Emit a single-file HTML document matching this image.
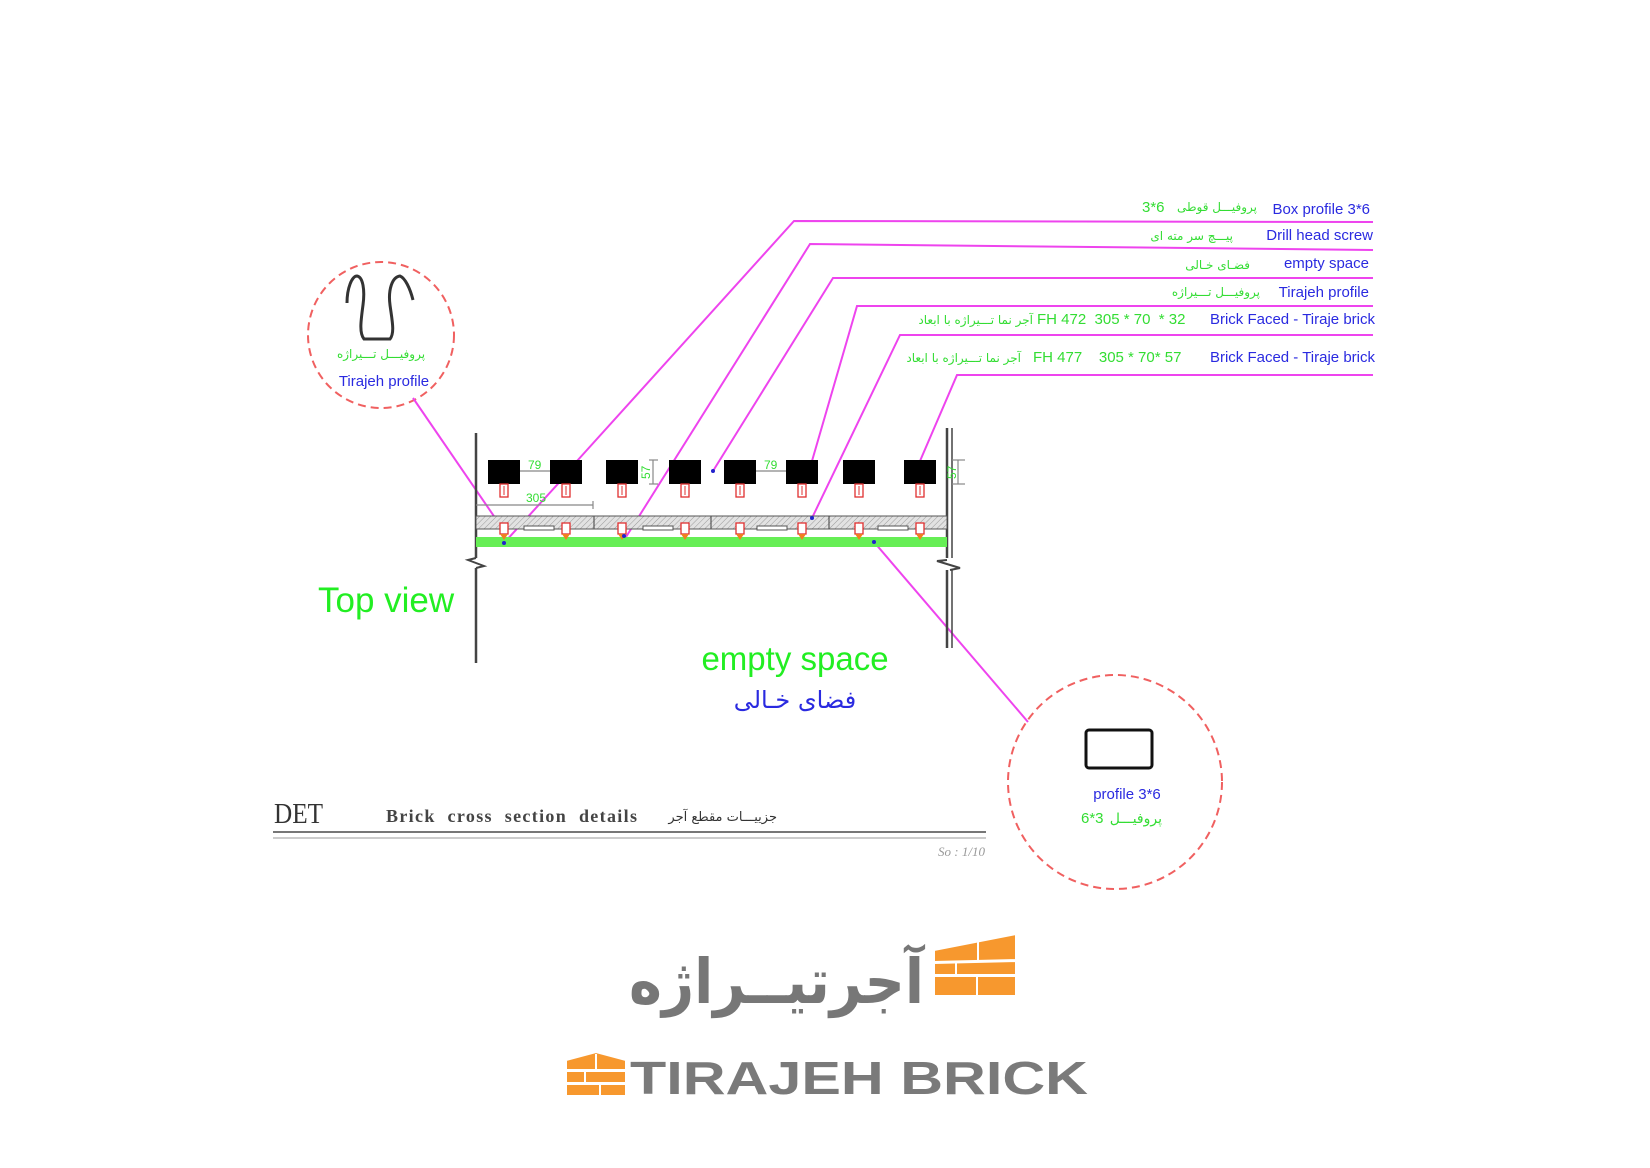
<!DOCTYPE html>
<html><head><meta charset="utf-8"><style>html,body{margin:0;padding:0;background:#fff}svg{display:block}</style></head>
<body>
<svg width="1650" height="1168" viewBox="0 0 1650 1168" xmlns="http://www.w3.org/2000/svg">
<defs>
<pattern id="h" width="4" height="4" patternUnits="userSpaceOnUse" patternTransform="rotate(45)">
<rect width="4" height="4" fill="#e2e2e2"/><line x1="0" y1="0" x2="0" y2="4" stroke="#9a9a9a" stroke-width="1"/></pattern>
<g id="scr"><rect x="-4" y="0" width="8" height="13" fill="#fff" stroke="#e03030" stroke-width="1.3"/><line x1="0" y1="2" x2="0" y2="11" stroke="#e03030" stroke-width="1"/></g>
<g id="scr2"><rect x="-4" y="0" width="8" height="11" fill="#fff" stroke="#e03030" stroke-width="1.3"/><polygon points="-4,11 4,11 0,17" fill="#f08020"/></g>
</defs>

<!-- left circle -->
<ellipse cx="381" cy="335" rx="73" ry="73" fill="none" stroke="#f06060" stroke-width="2" stroke-dasharray="8,5"/>
<path d="M347,303 C347,288 352,276 357,276 C363,277 365,290 363,305 C361,320 359,333 364,339 L390,339 C395,333 392,320 390,305 C388,290 392,277 400,276 C405,278 410,288 413,300" fill="none" stroke="#333" stroke-width="3"/>
<text x="381" y="358" font-family="DejaVu Sans, sans-serif" font-size="12" fill="#33dd33" text-anchor="middle">پروفیـــل تـــیراژه</text>
<text x="384" y="386" font-family="Liberation Sans, sans-serif" font-size="15" fill="#2a2ae0" text-anchor="middle">Tirajeh profile</text>

<!-- label lines -->
<g stroke="#ee44ee" stroke-width="2" fill="none">
<polyline points="1373,222 794,221 577,461"/>
<line x1="577" y1="463" x2="504" y2="543"/>
<polyline points="1373,250 810,244 626,537"/>
<polyline points="1373,278 833,278 713,471"/>
<polyline points="1373,306 857,306 812,461"/>
<polyline points="1373,335 900,335 812,518"/>
<polyline points="1373,375 957,375 920,461"/>
<line x1="413" y1="398" x2="500" y2="525"/>
<line x1="874" y1="542" x2="1028" y2="722"/>
</g>

<g font-family="Liberation Sans, sans-serif" font-size="15" fill="#2a2ae0" text-anchor="end">
<text x="1370" y="214">Box profile 3*6</text>
<text x="1373" y="240">Drill head screw</text>
<text x="1369" y="268">empty space</text>
<text x="1369" y="297">Tirajeh profile</text>
<text x="1375" y="324">Brick Faced - Tiraje brick</text>
<text x="1375" y="362">Brick Faced - Tiraje brick</text>
</g>
<g font-family="DejaVu Sans, sans-serif" font-size="12" fill="#33dd33" text-anchor="end">
<text x="1257" y="211">پروفیـــل قوطی</text>
<text x="1233" y="240">پیـــچ سر مته ای</text>
<text x="1250" y="269">فضـای خـالی</text>
<text x="1260" y="296">پروفیـــل تـــیراژه</text>
<text x="1033" y="324">آجر نما تـــیراژه با ابعاد</text>
<text x="1021" y="362">آجر نما تـــیراژه با ابعاد</text>
</g>
<g font-family="Liberation Sans, sans-serif" font-size="15" fill="#33dd33">
<text x="1142" y="212">3*6</text>
<text x="1037" y="324" xml:space="preserve">FH 472  305 * 70  * 32</text>
<text x="1033" y="362" xml:space="preserve">FH 477    305 * 70* 57</text>
</g>

<!-- walls -->
<g stroke="#444" stroke-width="2.5" fill="none">
<line x1="476" y1="433" x2="476" y2="558"/>
<line x1="476" y1="568" x2="476" y2="663"/>
<polyline points="476,558 468,560 484,566 476,568" stroke-width="2"/>
<line x1="947" y1="428" x2="947" y2="558"/><line x1="952" y1="428" x2="952" y2="558" stroke-width="1.5"/>
<line x1="947" y1="570" x2="947" y2="648"/><line x1="952" y1="570" x2="952" y2="648" stroke-width="1.5"/>
<polyline points="947,560 937,561 960,568 950,570" stroke-width="2"/>
</g>

<!-- blocks -->
<g>
<g fill="#000">
<rect x="488" y="460" width="32" height="24"/><rect x="550" y="460" width="32" height="24"/>
<rect x="606" y="460" width="32" height="24"/><rect x="669" y="460" width="32" height="24"/>
<rect x="724" y="460" width="32" height="24"/><rect x="786" y="460" width="32" height="24"/>
<rect x="843" y="460" width="32" height="24"/><rect x="904" y="460" width="32" height="24"/>
</g>
<use href="#scr" x="504" y="484"/><use href="#scr" x="566" y="484"/><use href="#scr" x="622" y="484"/><use href="#scr" x="685" y="484"/>
<use href="#scr" x="740" y="484"/><use href="#scr" x="802" y="484"/><use href="#scr" x="859" y="484"/><use href="#scr" x="920" y="484"/>
</g>

<!-- dims -->
<g stroke="#888" stroke-width="1.2">
<line x1="520" y1="471" x2="550" y2="471"/><line x1="756" y1="471" x2="786" y2="471"/>
<line x1="476" y1="505" x2="593" y2="505"/><line x1="593" y1="501" x2="593" y2="509"/>
<line x1="653" y1="460" x2="653" y2="484"/><line x1="649" y1="460" x2="658" y2="460"/><line x1="649" y1="484" x2="658" y2="484"/>
<line x1="958" y1="460" x2="958" y2="484"/><line x1="952" y1="460" x2="965" y2="460"/><line x1="952" y1="484" x2="965" y2="484"/>
</g>
<g font-family="Liberation Sans, sans-serif" font-size="12" fill="#33dd33">
<text x="528" y="469">79</text><text x="764" y="469">79</text><text x="526" y="502">305</text>
<text transform="translate(650,479) rotate(-90)">57</text>
<text transform="translate(956,479) rotate(-90)">57</text>
</g>

<!-- brick band -->
<rect x="476" y="516" width="471" height="13" fill="url(#h)" stroke="#555" stroke-width="1"/>
<g stroke="#555" stroke-width="1.2"><line x1="594" y1="516" x2="594" y2="529"/><line x1="711" y1="516" x2="711" y2="529"/><line x1="829" y1="516" x2="829" y2="529"/></g>
<g fill="#fff" stroke="#555" stroke-width="1">
<rect x="524" y="526" width="30" height="4"/><rect x="643" y="526" width="30" height="4"/><rect x="757" y="526" width="30" height="4"/><rect x="878" y="526" width="30" height="4"/>
</g>
<rect x="476" y="537" width="471" height="10" fill="#66ee55"/>
<use href="#scr2" x="504" y="523"/><use href="#scr2" x="566" y="523"/><use href="#scr2" x="622" y="523"/><use href="#scr2" x="685" y="523"/>
<use href="#scr2" x="740" y="523"/><use href="#scr2" x="802" y="523"/><use href="#scr2" x="859" y="523"/><use href="#scr2" x="920" y="523"/>
<g fill="#2222cc"><circle cx="504" cy="543" r="2"/><circle cx="624" cy="536" r="2"/><circle cx="713" cy="471" r="2"/><circle cx="812" cy="518" r="2"/><circle cx="874" cy="542" r="2"/></g>

<!-- big labels -->
<text x="318" y="612" font-family="Liberation Sans, sans-serif" font-size="35" fill="#22ee22">Top view</text>
<text x="795" y="670" font-family="Liberation Sans, sans-serif" font-size="33" fill="#22ee22" text-anchor="middle">empty space</text>
<text x="795" y="708" font-family="DejaVu Sans, sans-serif" font-size="24" fill="#2a2ae0" text-anchor="middle">فضای خـالی</text>

<!-- title block -->
<text x="274" y="823" font-family="Liberation Serif, serif" font-size="28" fill="#333" textLength="49" lengthAdjust="spacingAndGlyphs">DET</text>
<text x="386" y="822" font-family="Liberation Serif, serif" font-size="18" font-weight="bold" fill="#444" textLength="251" lengthAdjust="spacing" word-spacing="6">Brick cross section details</text>
<text x="777" y="821" font-family="DejaVu Sans, sans-serif" font-size="13" fill="#333" text-anchor="end">جزییـــات مقطع آجر</text>
<line x1="273" y1="832" x2="986" y2="832" stroke="#777" stroke-width="2"/>
<line x1="273" y1="838" x2="986" y2="838" stroke="#bbb" stroke-width="1.5"/>
<text x="985" y="856" font-family="Liberation Serif, serif" font-style="italic" font-size="13" fill="#999" text-anchor="end">So : 1/10</text>

<!-- right circle -->
<circle cx="1115" cy="782" r="107" fill="none" stroke="#f06060" stroke-width="2" stroke-dasharray="8,5"/>
<rect x="1086" y="730" width="66" height="38" rx="3" fill="none" stroke="#111" stroke-width="3"/>
<text x="1127" y="799" font-family="Liberation Sans, sans-serif" font-size="15" fill="#2a2ae0" text-anchor="middle">profile 3*6</text>
<text x="1081" y="823" font-family="Liberation Sans, sans-serif" font-size="15" fill="#33dd33">6*3</text>
<text x="1162" y="823" font-family="DejaVu Sans, sans-serif" font-size="14" fill="#33dd33" text-anchor="end">پروفیـــل</text>

<!-- logo top -->
<text x="629" y="1003" font-family="DejaVu Sans, sans-serif" font-size="62" font-weight="bold" fill="#777" textLength="295" lengthAdjust="spacingAndGlyphs">آجرتیــراژه</text>
<g fill="#f7982e" stroke="#fff" stroke-width="2">
<polygon points="934,950 1016,934 1016,960 934,962"/>
<polygon points="934,963 1016,961 1016,975 934,975"/>
<polygon points="934,976 1016,976 1016,996 934,996"/>
</g>
<g stroke="#fff" stroke-width="2"><line x1="978" y1="940" x2="978" y2="961"/><line x1="956" y1="963" x2="956" y2="975"/><line x1="977" y1="976" x2="977" y2="996"/></g>
<!-- logo bottom -->
<g fill="#f7982e" stroke="#fff" stroke-width="2">
<polygon points="566,1060 596,1052 626,1060 626,1070 566,1070"/>
<rect x="566" y="1071" width="60" height="12"/>
<rect x="566" y="1084" width="60" height="12"/>
</g>
<g stroke="#fff" stroke-width="2"><line x1="596" y1="1054" x2="596" y2="1070"/><line x1="585" y1="1071" x2="585" y2="1083"/><line x1="600" y1="1084" x2="600" y2="1096"/></g>
<text x="630" y="1094" font-family="Liberation Sans, sans-serif" font-size="46" font-weight="bold" fill="#7a7a7a" textLength="458" lengthAdjust="spacingAndGlyphs">TIRAJEH BRICK</text>
</svg>
</body></html>
